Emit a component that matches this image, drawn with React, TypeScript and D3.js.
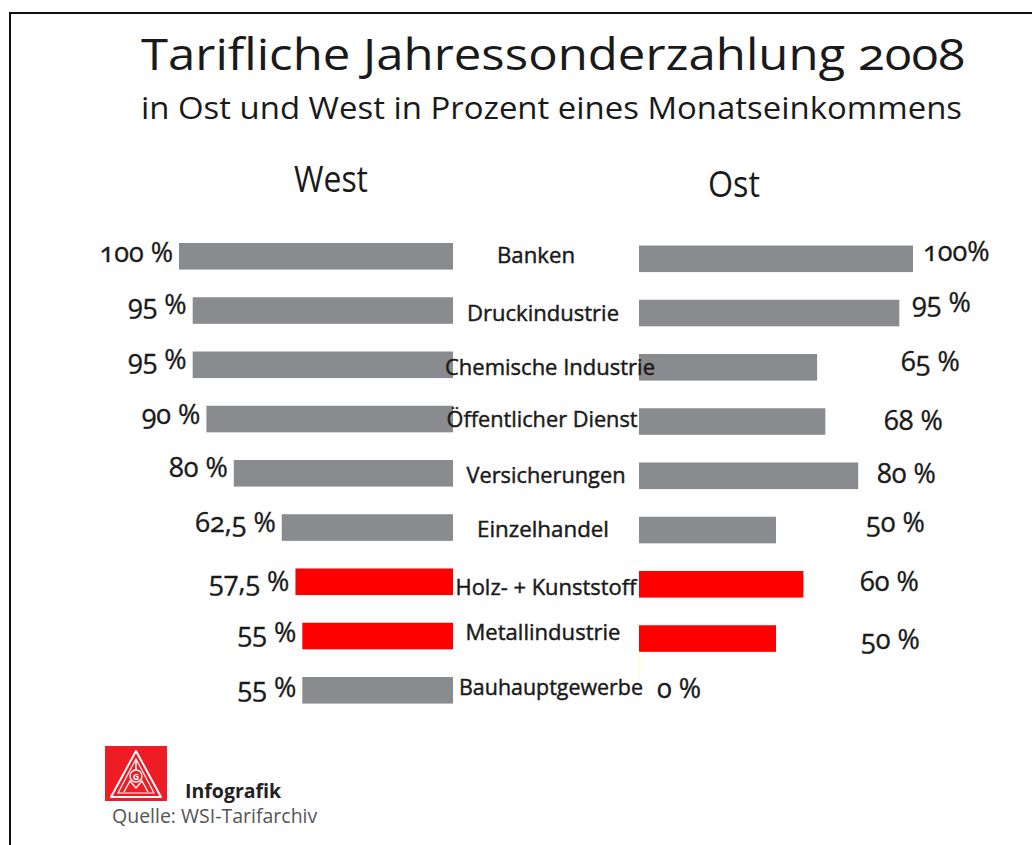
import React from "react";
import * as d3 from "d3";

const categories = [
  "Banken",
  "Druckindustrie",
  "Chemische Industrie",
  "Öffentlicher Dienst",
  "Versicherungen",
  "Einzelhandel",
  "Holz- + Kunststoff",
  "Metallindustrie",
  "Bauhauptgewerbe",
];
const westValues = [100, 95, 95, 90, 80, 62.5, 57.5, 55, 55];
const ostValues = [100, 95, 65, 68, 80, 50, 60, 50, 0];
const westLabels = ["100 %", "95 %", "95 %", "90 %", "80 %", "62,5 %", "57,5 %", "55 %", "55 %"];
const ostLabels = ["100%", "95 %", "65 %", "68 %", "80 %", "50 %", "60 %", "50 %", "0 %"];
const highlighted = ["Holz- + Kunststoff", "Metallindustrie"];

// text layout (label anchors, not marks)
const catLabelX = [536, 543, 550, 542, 546, 543, 546, 543, 551];
const catLabelDy = [20, 24, 23, 21, 23, 23, 26, 17, 18];
const catLabelW = [78, 152, 210, 191, 159, 132, 181, 155, 184];
const ostLabelX = [923, 912, 901, 884, 877, 866, 860, 861, 657];
const ostLabelDy = [18, 15, 19, 24, 23, 18, 22, 26, 21];
const westLabelDy = [19, 17, 17, 18, 17, 18, 22, 19, 20];

const GRAY = "#898b8e";
const RED = "#ff0000";
const INK = "#1a1a1a";
const FONT = "'Open Sans', 'DejaVu Sans', sans-serif";

export default function App() {
  const W = 1032;
  const H = 845;

  const yW = d3
    .scaleBand<string>()
    .domain(categories)
    .range([243, 243 + 54.25 * (9 - 0.51)])
    .paddingInner(0.51)
    .paddingOuter(0);
  const yE = d3
    .scaleBand<string>()
    .domain(categories)
    .range([245.5, 245.5 + 54.25 * (9 - 0.51)])
    .paddingInner(0.51)
    .paddingOuter(0);

  const xW = d3.scaleLinear().domain([0, 100]).range([453, 179]);
  const xE = d3.scaleLinear().domain([0, 100]).range([639, 913]);

  const col = (c: string) => (highlighted.includes(c) ? RED : GRAY);
  const onum = { fontVariantNumeric: "oldstyle-nums" as const };

  return (
    <svg
      width={W}
      height={H}
      style={{ position: "absolute", left: 0, top: 0, background: "#fff" }}
      fontFamily={FONT}
    >
      <rect x={0} y={0} width={W} height={H} fill="#fff" />
      <path d={`M10,${H} V13 H${W}`} fill="none" stroke="#111" strokeWidth={2} />

      {/* Title */}
      <text
        x={141}
        y={70}
        fontSize={43}
        fill={INK}
        textLength={824}
        lengthAdjust="spacingAndGlyphs"
        style={onum}
      >
        Tarifliche Jahressonderzahlung 2008
      </text>
      <text
        x={141}
        y={119}
        fontSize={31}
        fill={INK}
        textLength={821}
        lengthAdjust="spacingAndGlyphs"
      >
        in Ost und West in Prozent eines Monatseinkommens
      </text>

      <text x={331} y={192} fontSize={36} textAnchor="middle" fill={INK} textLength={74} lengthAdjust="spacingAndGlyphs">
        West
      </text>
      <text x={734} y={197} fontSize={36} textAnchor="middle" fill={INK} textLength={52} lengthAdjust="spacingAndGlyphs">
        Ost
      </text>

      {/* West bars */}
      {categories.map((c, i) => (
        <rect
          key={"w" + c}
          x={xW(westValues[i])}
          y={yW(c)}
          width={xW(0) - xW(westValues[i])}
          height={yW.bandwidth()}
          fill={col(c)}
        />
      ))}
      {/* Ost bars */}
      {categories.map((c, i) =>
        ostValues[i] > 0 ? (
          <rect
            key={"e" + c}
            x={xE(0)}
            y={yE(c)}
            width={xE(ostValues[i]) - xE(0)}
            height={yE.bandwidth()}
            fill={col(c)}
          />
        ) : (
          <line
            key={"e" + c}
            x1={xE(0) + 0.5}
            x2={xE(0) + 0.5}
            y1={(yE(categories[i - 1]) as number) + yE.bandwidth()}
            y2={(yE(c) as number) - 1}
            stroke="#ffffc8"
            strokeWidth={1.5}
          />
        )
      )}

      {/* Category labels */}
      {categories.map((c, i) => (
        <text
          key={"c" + c}
          x={catLabelX[i]}
          y={(yW(c) as number) + catLabelDy[i]}
          fontSize={22}
          textAnchor="middle"
          fill={INK}
          stroke={INK}
          strokeWidth={0.45}
          textLength={catLabelW[i]}
          lengthAdjust="spacingAndGlyphs"
        >
          {c}
        </text>
      ))}

      {/* West value labels */}
      {categories.map((c, i) => (
        <text
          key={"wl" + c}
          x={xW(westValues[i]) - 6}
          y={(yW(c) as number) + westLabelDy[i]}
          fontSize={27}
          textAnchor="end"
          fill={INK}
          stroke={INK}
          strokeWidth={0.35}
          style={onum}
        >
          {westLabels[i]}
        </text>
      ))}
      {/* Ost value labels */}
      {categories.map((c, i) => (
        <text
          key={"el" + c}
          x={ostLabelX[i]}
          y={(yW(c) as number) + ostLabelDy[i]}
          fontSize={27}
          textAnchor="start"
          fill={INK}
          stroke={INK}
          strokeWidth={0.35}
          style={onum}
        >
          {ostLabels[i]}
        </text>
      ))}

      {/* Logo */}
      <g>
        <rect x={105} y={746} width={62} height={55} fill="#ee1c25" />
        <path d="M136,751 L111,797 L161,797 Z" fill="none" stroke="#fff" strokeWidth={2} strokeLinejoin="round" />
        <path d="M136,759 L118,793 L154,793 Z" fill="none" stroke="#fff" strokeWidth={1.2} strokeLinejoin="round" />
        <line x1={136} y1={759} x2={136} y2={770} stroke="#fff" strokeWidth={1.5} />
        <circle cx={136} cy={776} r={6} fill="#ee1c25" stroke="#fff" strokeWidth={1.3} />
        <text x={136} y={779.5} fontSize={9} fontWeight="bold" textAnchor="middle" fill="#fff">
          G
        </text>
        <path d="M124,792 L130,781 L136,788 L142,781 L148,792" fill="none" stroke="#fff" strokeWidth={1.3} />
      </g>
      <text x={185} y={798} fontSize={19.5} fontWeight="bold" fill="#222">
        Infografik
      </text>
      <text x={112} y={823} fontSize={19.5} fill="#555">
        Quelle: WSI-Tarifarchiv
      </text>
    </svg>
  );
}
